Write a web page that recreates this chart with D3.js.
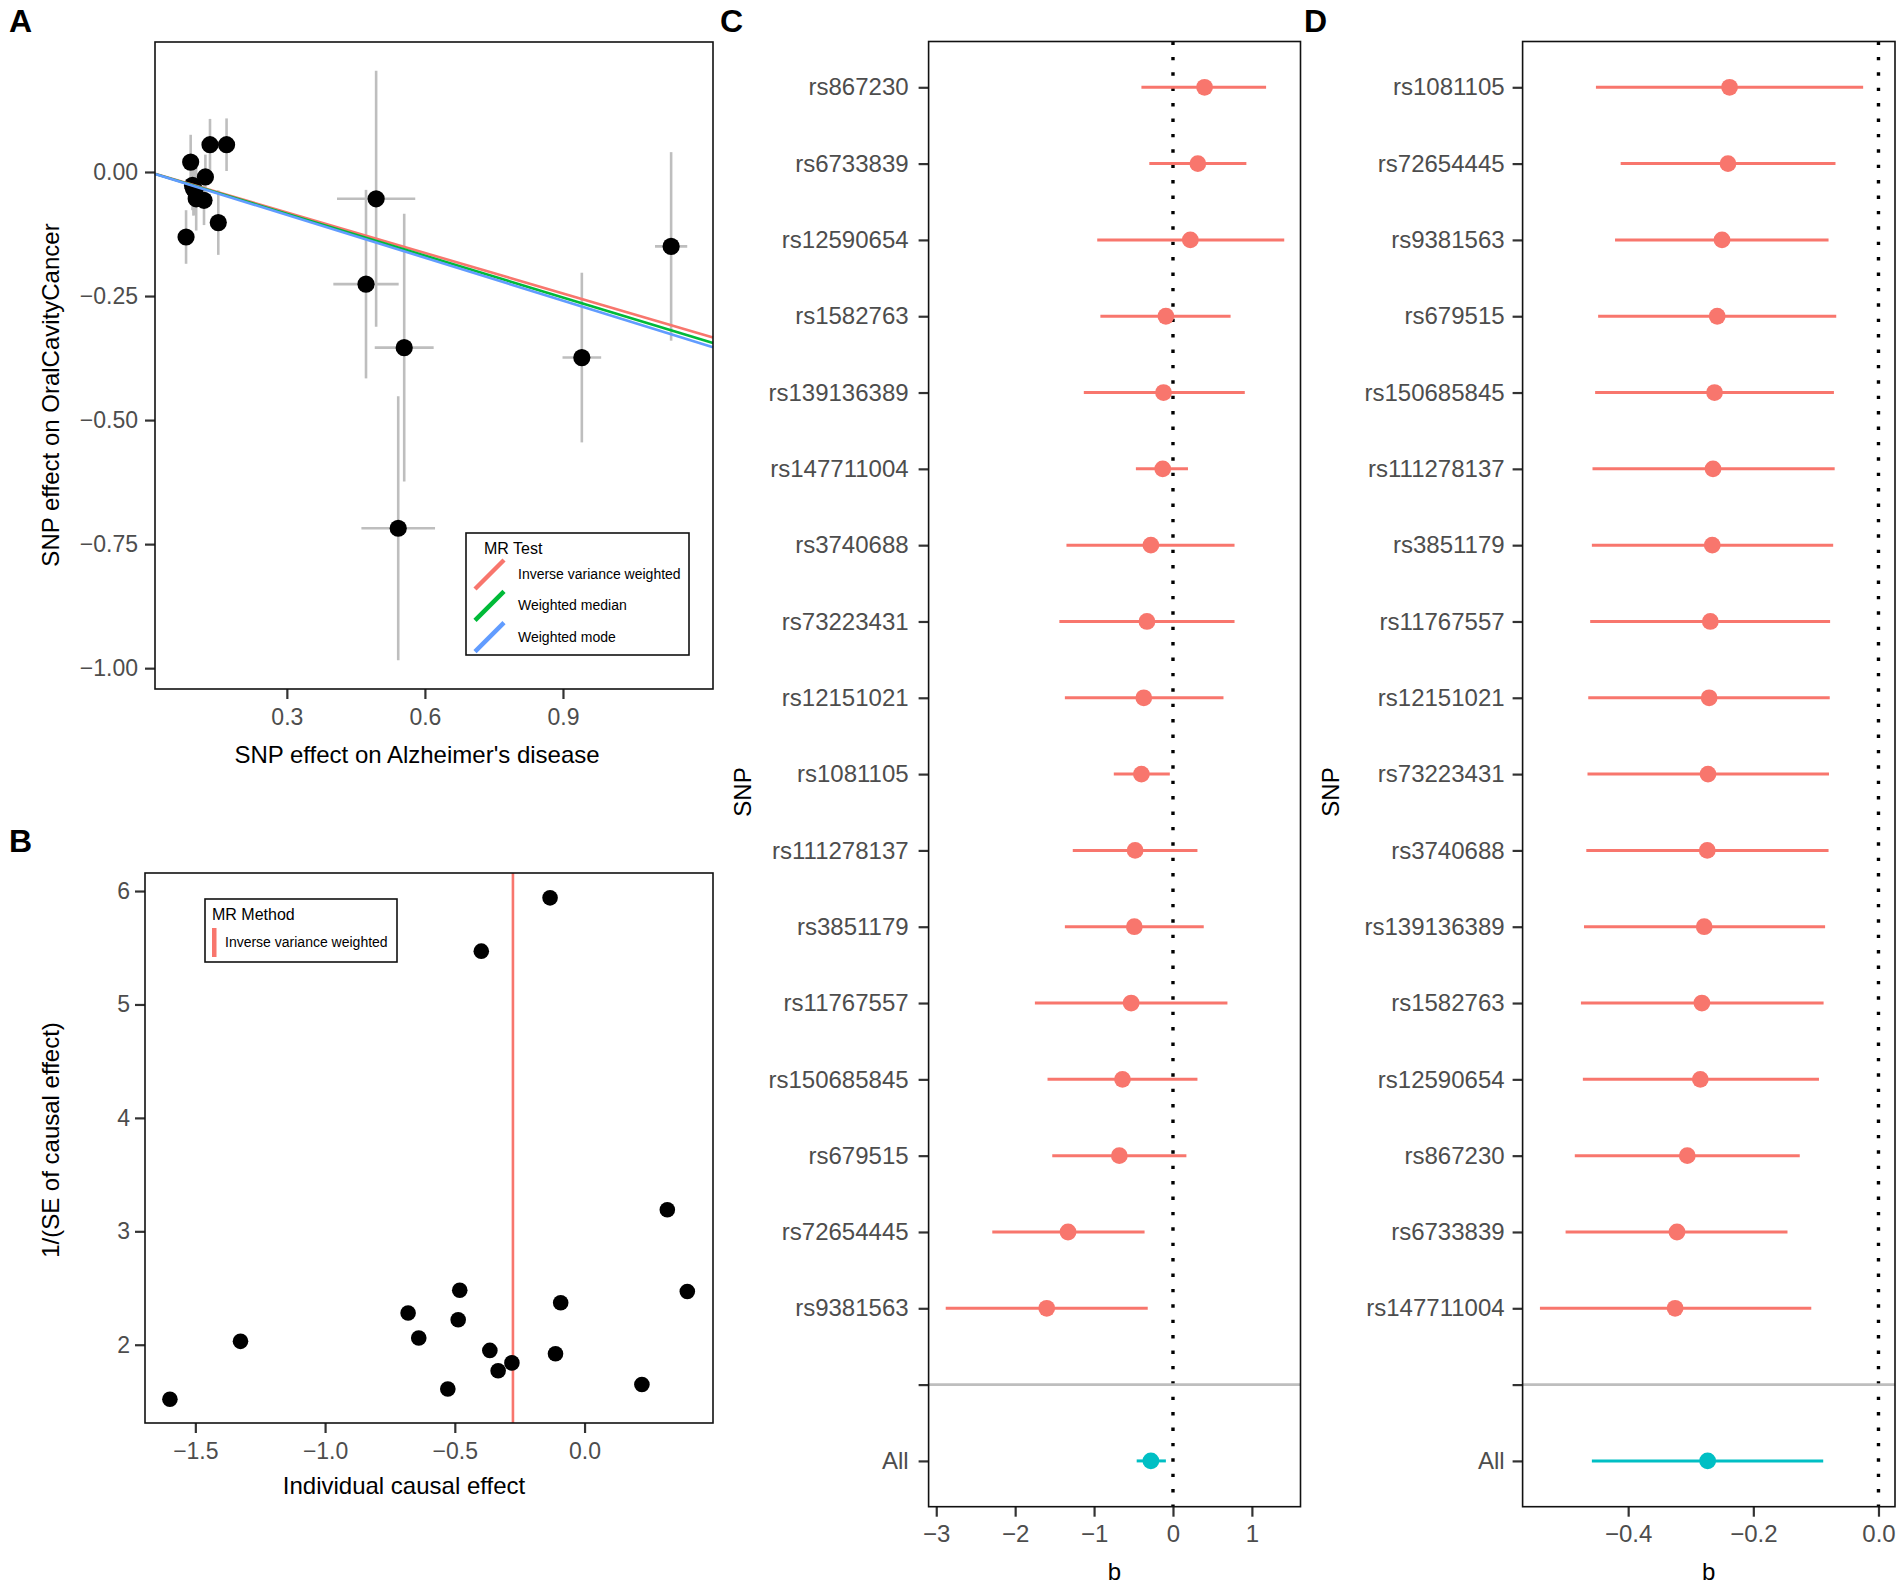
<!DOCTYPE html>
<html>
<head>
<meta charset="utf-8">
<script src="https://cdn.jsdelivr.net/npm/d3@7"></script>
<style>
  body { margin: 0; background: #fff; }
  svg { font-family: "Liberation Sans", Arial, sans-serif; display: block; }
</style>
</head>
<body>
<svg id="fig" width="1902" height="1585"></svg>
<script>
'use strict';

// panel A - SNP effect on exposure vs outcome
var aExposure   = [0.081, 0.091, 0.133, 0.169, 0.123, 0.095, 0.103, 0.120, 0.151, 0.100, 0.097, 0.494, 0.472, 0.555, 0.941, 1.135, 0.542];
var aOutcome    = [-0.131, 0.020, 0.055, 0.055, -0.010, -0.027, -0.054, -0.057, -0.102, -0.037, -0.033, -0.054, -0.226, -0.354, -0.374, -0.150, -0.718];
var aExposureSe = [0.008, 0.008, 0.008, 0.008, 0.008, 0.008, 0.008, 0.008, 0.008, 0.008, 0.008, 0.085, 0.071, 0.064, 0.042, 0.035, 0.080];
var aOutcomeSe  = [0.054, 0.055, 0.052, 0.053, 0.045, 0.050, 0.064, 0.050, 0.065, 0.050, 0.055, 0.258, 0.190, 0.270, 0.171, 0.190, 0.266];
var aMethods = ['Inverse variance weighted', 'Weighted median', 'Weighted mode'];
var aSlopes  = [-0.272, -0.281, -0.288];
var aXTicks  = [0.3, 0.6, 0.9];
var aYTicks  = [0, -0.25, -0.5, -0.75, -1];

// panel B - funnel plot
var bEffect    = [-0.133, -0.398, 0.319, 0.396, -0.481, -0.092, -0.680, -0.487, -0.639, -1.326, -0.365, -0.112, -0.280, -0.333, 0.221, -0.527, -1.598];
var bPrecision = [5.94, 5.47, 3.19, 2.47, 2.48, 2.37, 2.28, 2.22, 2.06, 2.03, 1.95, 1.92, 1.84, 1.77, 1.65, 1.61, 1.52];
var bIvw = -0.276;
var bXTicks = [-1.5, -1, -0.5, 0];
var bYTicks = [2, 3, 4, 5, 6];

// panel C - single SNP analysis
var cSnps = ['rs867230', 'rs6733839', 'rs12590654', 'rs1582763', 'rs139136389', 'rs147711004', 'rs3740688',
  'rs73223431', 'rs12151021', 'rs1081105', 'rs111278137', 'rs3851179', 'rs11767557', 'rs150685845',
  'rs679515', 'rs72654445', 'rs9381563', '', 'All'];
var cB  = [0.40, 0.315, 0.22, -0.09, -0.12, -0.13, -0.28, -0.33, -0.37, -0.40, -0.48, -0.49, -0.53, -0.64, -0.68, -1.33, -1.60, null, -0.28];
var cLo = [-0.40, -0.30, -0.96, -0.92, -1.13, -0.47, -1.35, -1.44, -1.37, -0.75, -1.27, -1.37, -1.75, -1.59, -1.53, -2.29, -2.88, null, -0.46];
var cHi = [1.18, 0.93, 1.41, 0.73, 0.91, 0.19, 0.78, 0.78, 0.64, -0.04, 0.31, 0.39, 0.69, 0.31, 0.17, -0.36, -0.32, null, -0.09];
var cXTicks = [-3, -2, -1, 0, 1];

// panel D - leave-one-out
var dSnps = ['rs1081105', 'rs72654445', 'rs9381563', 'rs679515', 'rs150685845', 'rs111278137', 'rs3851179',
  'rs11767557', 'rs12151021', 'rs73223431', 'rs3740688', 'rs139136389', 'rs1582763', 'rs12590654',
  'rs867230', 'rs6733839', 'rs147711004', '', 'All'];
var dB  = [-0.238, -0.2405, -0.250, -0.2577, -0.262, -0.2644, -0.2656, -0.2687, -0.2706, -0.2724, -0.2736, -0.2785, -0.2822, -0.2847, -0.3055, -0.322, -0.325, null, -0.273];
var dLo = [-0.4515, -0.412, -0.421, -0.448, -0.4528, -0.457, -0.458, -0.4607, -0.4638, -0.465, -0.4669, -0.4706, -0.4755, -0.4724, -0.4853, -0.500, -0.541, null, -0.458];
var dHi = [-0.0245, -0.0687, -0.0798, -0.0675, -0.0712, -0.070, -0.0724, -0.0773, -0.0779, -0.0791, -0.0798, -0.0853, -0.0877, -0.0951, -0.1258, -0.1454, -0.1074, null, -0.0883];
var dXTicks = [-0.4, -0.2, 0];

var methodColor = {
  'Inverse variance weighted': '#F8766D',
  'Weighted median': '#00BA38',
  'Weighted mode': '#619CFF'
};
var textGrey = '#4d4d4d';

var svg = d3.select('#fig');
svg.append('rect').attr('width', 1902).attr('height', 1585).attr('fill', '#fff');

function styleAxis(sel, size) {
  sel.attr('font-size', size).attr('font-family', null);
  sel.select('.domain').remove();
  sel.selectAll('.tick line').attr('stroke', '#333').attr('stroke-width', 2.2);
  sel.selectAll('.tick text').attr('fill', textGrey);
}

function border(g, x0, y0, x1, y1) {
  g.append('rect')
    .attr('x', x0).attr('y', y0)
    .attr('width', x1 - x0).attr('height', y1 - y0)
    .attr('fill', 'none').attr('stroke', '#111').attr('stroke-width', 1.6);
}

function panelLabel(txt, x, y) {
  svg.append('text').attr('x', x).attr('y', y)
    .attr('font-size', 32).attr('font-weight', 'bold').text(txt);
}

function title(g, txt, x, y, rotate) {
  var t = g.append('text').attr('font-size', 24).attr('fill', '#000')
    .attr('text-anchor', 'middle').text(txt);
  if (rotate) t.attr('transform', 'translate(' + x + ',' + y + ') rotate(-90)');
  else t.attr('x', x).attr('y', y);
}

// ---------------- A ----------------
function drawScatter() {
  var L = 155, R = 713, T = 42, B = 689;
  var x = d3.scaleLinear().domain([0.0135, 1.226]).range([L, R]);
  var y = d3.scaleLinear().domain([0.262, -1.042]).range([T, B]);
  var g = svg.append('g');
  var pts = aExposure.map(function (d, i) {
    return { bx: d, by: aOutcome[i], sx: aExposureSe[i], sy: aOutcomeSe[i] };
  });

  g.selectAll('.ev').data(pts).enter().append('line')
    .attr('x1', function (d) { return x(d.bx); }).attr('x2', function (d) { return x(d.bx); })
    .attr('y1', function (d) { return y(d.by - d.sy); }).attr('y2', function (d) { return y(d.by + d.sy); })
    .attr('stroke', '#bebebe').attr('stroke-width', 2.6);
  g.selectAll('.eh').data(pts).enter().append('line')
    .attr('y1', function (d) { return y(d.by); }).attr('y2', function (d) { return y(d.by); })
    .attr('x1', function (d) { return x(d.bx - d.sx); }).attr('x2', function (d) { return x(d.bx + d.sx); })
    .attr('stroke', '#bebebe').attr('stroke-width', 2.6);
  g.selectAll('.pt').data(pts).enter().append('circle')
    .attr('cx', function (d) { return x(d.bx); }).attr('cy', function (d) { return y(d.by); })
    .attr('r', 8.6).attr('fill', '#000');

  var dom = x.domain();
  g.selectAll('.abline').data(aMethods).enter().append('line')
    .attr('x1', x(dom[0])).attr('x2', x(dom[1]))
    .attr('y1', function (d, i) { return y(aSlopes[i] * dom[0]); })
    .attr('y2', function (d, i) { return y(aSlopes[i] * dom[1]); })
    .attr('stroke', function (d) { return methodColor[d]; }).attr('stroke-width', 2.6);

  g.append('g').attr('transform', 'translate(0,' + B + ')')
    .call(d3.axisBottom(x).tickValues(aXTicks).tickFormat(d3.format('.1f')).tickSize(10).tickPadding(10))
    .call(styleAxis, 23);
  g.append('g').attr('transform', 'translate(' + L + ',0)')
    .call(d3.axisLeft(y).tickValues(aYTicks).tickFormat(d3.format('.2f')).tickSize(10).tickPadding(7))
    .call(styleAxis, 23);
  border(g, L, T, R, B);

  // legend
  var lg = g.append('g');
  lg.append('rect').attr('x', 466).attr('y', 533).attr('width', 223).attr('height', 122)
    .attr('fill', '#fff').attr('stroke', '#111').attr('stroke-width', 1.6);
  lg.append('text').attr('x', 484).attr('y', 554).attr('font-size', 16).text('MR Test');
  var item = lg.selectAll('.item').data(aMethods).enter().append('g')
    .attr('transform', function (d, i) { return 'translate(0,' + (574 + i * 31.3) + ')'; });
  item.append('line').attr('x1', 475).attr('y1', 15).attr('x2', 504).attr('y2', -14)
    .attr('stroke', function (d) { return methodColor[d]; }).attr('stroke-width', 4.5);
  item.append('text').attr('x', 518).attr('y', 5).attr('font-size', 14).text(function (d) { return d; });

  title(g, 'SNP effect on Alzheimer\'s disease', 417, 763);
  title(g, 'SNP effect on OralCavityCancer', 59, 395, true);
}

// ---------------- B ----------------
function drawFunnel() {
  var L = 145, R = 713, T = 873, B = 1423;
  var x = d3.scaleLinear().domain([-1.694, 0.495]).range([L, R]);
  var y = d3.scaleLinear().domain([6.159, 1.31]).range([T, B]);
  var g = svg.append('g');

  g.append('line').attr('x1', x(bIvw)).attr('x2', x(bIvw)).attr('y1', T).attr('y2', B)
    .attr('stroke', methodColor['Inverse variance weighted']).attr('stroke-width', 2.6);
  g.selectAll('.pt').data(bEffect).enter().append('circle')
    .attr('cx', function (d) { return x(d); })
    .attr('cy', function (d, i) { return y(bPrecision[i]); })
    .attr('r', 7.8).attr('fill', '#000');

  g.append('g').attr('transform', 'translate(0,' + B + ')')
    .call(d3.axisBottom(x).tickValues(bXTicks).tickFormat(d3.format('.1f')).tickSize(10).tickPadding(10))
    .call(styleAxis, 23);
  g.append('g').attr('transform', 'translate(' + L + ',0)')
    .call(d3.axisLeft(y).tickValues(bYTicks).tickFormat(d3.format('d')).tickSize(10).tickPadding(5))
    .call(styleAxis, 23);
  border(g, L, T, R, B);

  var lg = g.append('g');
  lg.append('rect').attr('x', 205).attr('y', 899).attr('width', 192).attr('height', 63)
    .attr('fill', '#fff').attr('stroke', '#111').attr('stroke-width', 1.6);
  lg.append('text').attr('x', 212).attr('y', 920).attr('font-size', 16).text('MR Method');
  lg.append('rect').attr('x', 212).attr('y', 928).attr('width', 4.5).attr('height', 29)
    .attr('fill', methodColor['Inverse variance weighted']);
  lg.append('text').attr('x', 225).attr('y', 947).attr('font-size', 14).text('Inverse variance weighted');

  title(g, 'Individual causal effect', 404, 1494);
  title(g, '1/(SE of causal effect)', 59, 1140, true);
}

// ---------------- C / D ----------------
function drawForest(opts) {
  var L = opts.left, R = opts.right, T = 41.5, B = 1506.7;
  var x = d3.scaleLinear().domain(opts.xDomain).range([L, R]);
  var y = d3.scalePoint().domain(opts.snps).range([T, B]).padding(0.6);
  var g = svg.append('g');
  var rows = opts.snps.map(function (s, i) {
    return { snp: s, b: opts.b[i], lo: opts.lo[i], hi: opts.hi[i] };
  }).filter(function (d) { return d.b !== null; });

  g.append('line').attr('x1', x(0)).attr('x2', x(0)).attr('y1', T).attr('y2', B)
    .attr('stroke', '#000').attr('stroke-width', 3.4).attr('stroke-dasharray', '3.4,12');
  g.append('line').attr('x1', L).attr('x2', R).attr('y1', y('')).attr('y2', y(''))
    .attr('stroke', '#bebebe').attr('stroke-width', 2.6);

  g.selectAll('.ci').data(rows).enter().append('line')
    .attr('x1', function (d) { return x(d.lo); }).attr('x2', function (d) { return x(d.hi); })
    .attr('y1', function (d) { return y(d.snp); }).attr('y2', function (d) { return y(d.snp); })
    .attr('stroke', function (d) { return d.snp === 'All' ? '#00BFC4' : '#F8766D'; })
    .attr('stroke-width', 3);
  g.selectAll('.pt').data(rows).enter().append('circle')
    .attr('cx', function (d) { return x(d.b); }).attr('cy', function (d) { return y(d.snp); })
    .attr('r', 8.4)
    .attr('fill', function (d) { return d.snp === 'All' ? '#00BFC4' : '#F8766D'; });

  g.append('g').attr('transform', 'translate(0,' + B + ')')
    .call(d3.axisBottom(x).tickValues(opts.ticks).tickFormat(d3.format(opts.fmt)).tickSize(10).tickPadding(8))
    .call(styleAxis, 24);
  g.append('g').attr('transform', 'translate(' + L + ',0)')
    .call(d3.axisLeft(y).tickSize(10).tickPadding(opts.pad))
    .call(styleAxis, 24);
  border(g, L, T, R, B);

  title(g, 'b', (L + R) / 2, 1580);
  title(g, 'SNP', opts.snpX, 792, true);
}

drawScatter();
drawFunnel();
drawForest({ snps: cSnps, b: cB, lo: cLo, hi: cHi, left: 928.6, right: 1300.5,
  xDomain: [-3.097, 1.616], ticks: cXTicks, fmt: 'd', pad: 10, snpX: 751 });
drawForest({ snps: dSnps, b: dB, lo: dLo, hi: dHi, left: 1522.6, right: 1895,
  xDomain: [-0.5687, 0.0264], ticks: dXTicks, fmt: '.1f', pad: 8, snpX: 1339 });

panelLabel('A', 9, 32);
panelLabel('B', 9, 852);
panelLabel('C', 720, 32);
panelLabel('D', 1304, 32);
</script>
</body>
</html>
